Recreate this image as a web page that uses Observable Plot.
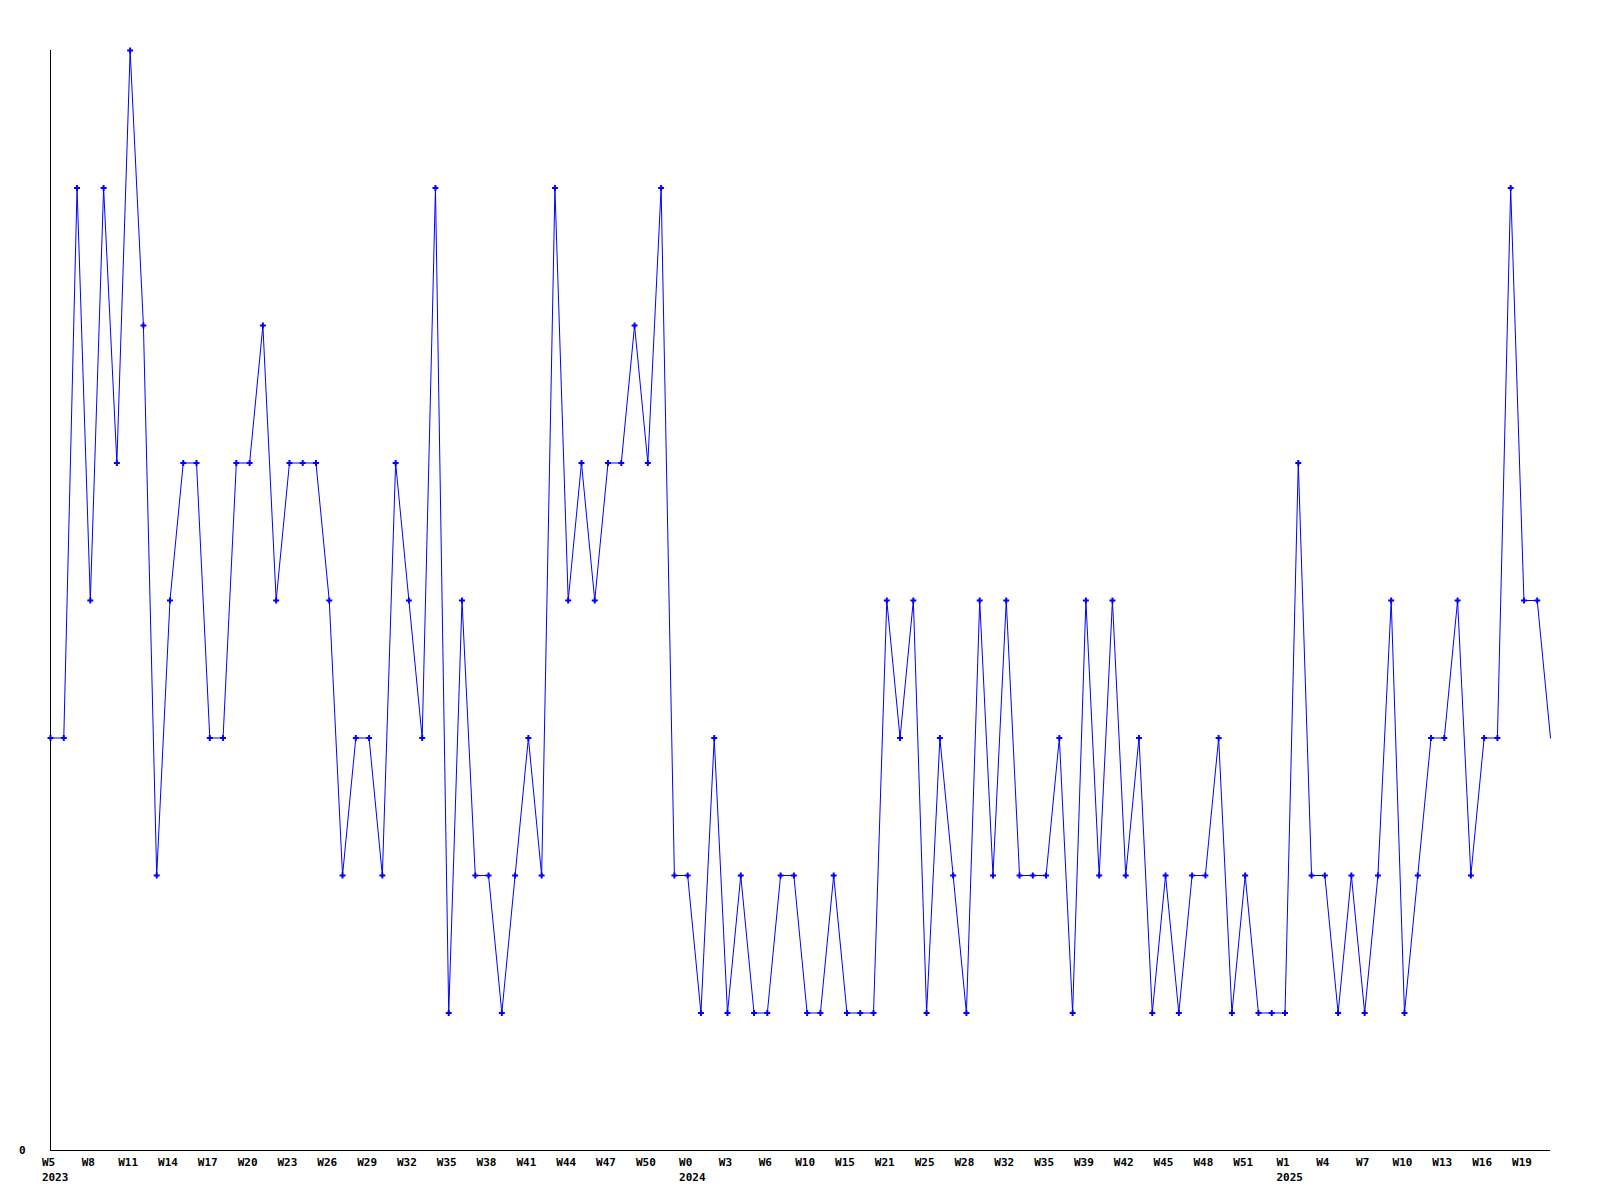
<!DOCTYPE html>
<html>
<head>
<meta charset="utf-8">
<script src="https://cdn.jsdelivr.net/npm/d3@7"></script>
<script src="https://cdn.jsdelivr.net/npm/@observablehq/plot@0.6"></script>
<style>
  html, body { margin: 0; padding: 0; background: #ffffff; }
  #chart { width: 1600px; height: 1200px; }
</style>
</head>
<body>
<div id="chart"></div>
<script>
// Weekly values, one per point (in order)
const values = [
  3, 3, 7, 4, 7, 5, 8, 6, 2, 4,
  5, 5, 3, 3, 5, 5, 6, 4, 5, 5,
  5, 4, 2, 3, 3, 2, 5, 4, 3, 7,
  1, 4, 2, 2, 1, 2, 3, 2, 7, 4,
  5, 4, 5, 5, 6, 5, 7, 2, 2, 1,
  3, 1, 2, 1, 1, 2, 2, 1, 1, 2,
  1, 1, 1, 4, 3, 4, 1, 3, 2, 1,
  4, 2, 4, 2, 2, 2, 3, 1, 4, 2,
  4, 2, 3, 1, 2, 1, 2, 2, 3, 1,
  2, 1, 1, 1, 5, 2, 2, 1, 2, 1,
  2, 4, 1, 2, 3, 3, 4, 2, 3, 3,
  7, 4, 4, 3
];

// Tick labels (every third point)
const tickLabels = [
  "W5", "W8", "W11", "W14", "W17", "W20", "W23", "W26", "W29", "W32", "W35", "W38", "W41", "W44", "W47", "W50",
  "W0", "W3", "W6", "W10", "W15", "W21", "W25", "W28", "W32", "W35", "W39", "W42", "W45", "W48", "W51",
  "W1", "W4", "W7", "W10", "W13", "W16", "W19"
];
const tickStep = 3;

// Year labels and the tick where each year starts
const yearLabels = ["2023", "2024", "2025"];
const yearTickPositions = [0, 16, 31]; // positions in tickLabels (W5, W0, W1)

const data = values.map((v, i) => ({i, v}));
const tickIndex = tickLabels.map((_, k) => k * tickStep);
const years = yearLabels.map((y, k) => ({i: tickIndex[yearTickPositions[k]], label: y}));

const font = "DejaVu Sans Mono";
const charW = 11 * 0.602;

const chart = Plot.plot({
  width: 1600,
  height: 1200,
  marginTop: 50,
  marginRight: 50,
  marginBottom: 50,
  marginLeft: 50,
  style: {fontFamily: font, fontSize: "11px", fontWeight: "bold", background: "#ffffff", color: "#000000"},
  x: {type: "linear", domain: [0, values.length - 1], axis: null},
  y: {type: "linear", domain: [0, 8], axis: null},
  marks: [
    Plot.ruleY([0], {stroke: "#000000", strokeWidth: 1, shapeRendering: "crispEdges"}),
    Plot.ruleX([0], {stroke: "#000000", strokeWidth: 1, shapeRendering: "crispEdges"}),
    Plot.axisX(tickIndex, {
      tickSize: 0,
      tickPadding: 8,
      tickFormat: d => tickLabels[Math.round(d / tickStep)],
      label: null,
      fontWeight: "bold",
      fill: "#000000",
      dx: -2
    }),
    Plot.text(years, {
      x: "i",
      y: 0,
      text: "label",
      textAnchor: "start",
      lineAnchor: "top",
      dy: 23,
      dx: -charW - 2,
      fontWeight: "bold",
      fill: "#000000"
    }),
    Plot.axisY([0], {
      tickSize: 0,
      tickPadding: 25,
      tickFormat: d => String(d),
      label: null,
      fontWeight: "bold",
      fill: "#000000"
    }),
    Plot.line(data, {x: "i", y: "v", stroke: "#0000ff", strokeWidth: 1}),
    Plot.dot(data.slice(0, -1), {x: "i", y: "v", symbol: "cross", r: 2.5, fill: "#0000ff", stroke: "none"})
  ]
});

document.getElementById("chart").appendChild(chart);
</script>
</body>
</html>
